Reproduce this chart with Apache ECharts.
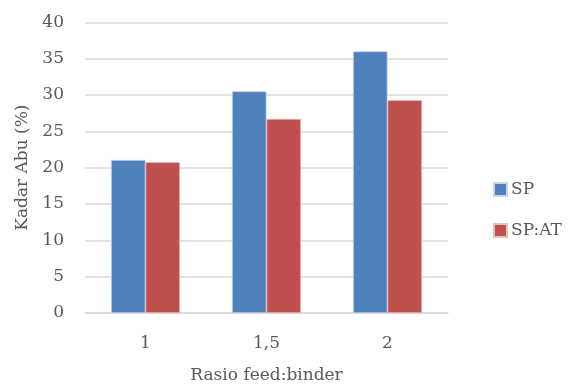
<!DOCTYPE html>
<html><head><meta charset="utf-8">
<script src="https://cdn.jsdelivr.net/npm/echarts@6/dist/echarts.min.js"></script>
<style>html,body{margin:0;padding:0;background:#fff}#c{width:569px;height:389px}</style>
</head><body><div id="c"></div>
<script>
const categories = ['1', '1,5', '2'];
const seriesSP = [21.05, 30.5, 36.0];
const seriesSPAT = [20.75, 26.7, 29.3];
const yTicks = [0, 5, 10, 15, 20, 25, 30, 35, 40];

const font = '"DejaVu Serif", serif';
const chart = echarts.init(document.getElementById('c'), null, {renderer: 'canvas'});
chart.setOption({
  animation: false,
  textStyle: {fontFamily: font},
  grid: {left: 85, right: 121, top: 22.3, bottom: 72.3, containLabel: false},
  legend: {
    orient: 'vertical', left: 488, top: 176, itemWidth: 13, itemHeight: 13, itemGap: 24,
    icon: 'rect',
    textStyle: {fontFamily: font, fontSize: 17, color: '#595959', padding: [0, 0, 0, -1]},
    data: ['SP', 'SP:AT']
  },
  xAxis: {
    type: 'category', data: categories,
    name: 'Rasio feed:binder', nameLocation: 'middle', nameGap: 54,
    nameTextStyle: {fontFamily: font, fontSize: 17, color: '#595959'},
    axisLine: {lineStyle: {color: '#d9d9d9', width: 1.5}},
    axisTick: {show: false},
    axisLabel: {fontFamily: font, fontSize: 17, color: '#595959', margin: 22}
  },
  yAxis: {
    type: 'value', min: yTicks[0], max: yTicks[yTicks.length - 1], interval: 5,
    name: 'Kadar Abu (%)', nameLocation: 'middle', nameGap: 52,
    nameTextStyle: {fontFamily: font, fontSize: 17, color: '#595959'},
    axisLine: {show: false}, axisTick: {show: false},
    axisLabel: {fontFamily: font, fontSize: 17, color: '#595959', margin: 21},
    splitLine: {lineStyle: {color: '#d9d9d9', width: 1.5}}
  },
  series: [
    {name: 'SP', type: 'bar', data: seriesSP, barGap: '0%', barCategoryGap: '43%',
     itemStyle: {color: '#4f81bd', borderColor: '#c5d5ea', borderWidth: 0.7}},
    {name: 'SP:AT', type: 'bar', data: seriesSPAT,
     itemStyle: {color: '#c0504d', borderColor: '#e6c0bf', borderWidth: 0.7}}
  ]
});
</script></body></html>
